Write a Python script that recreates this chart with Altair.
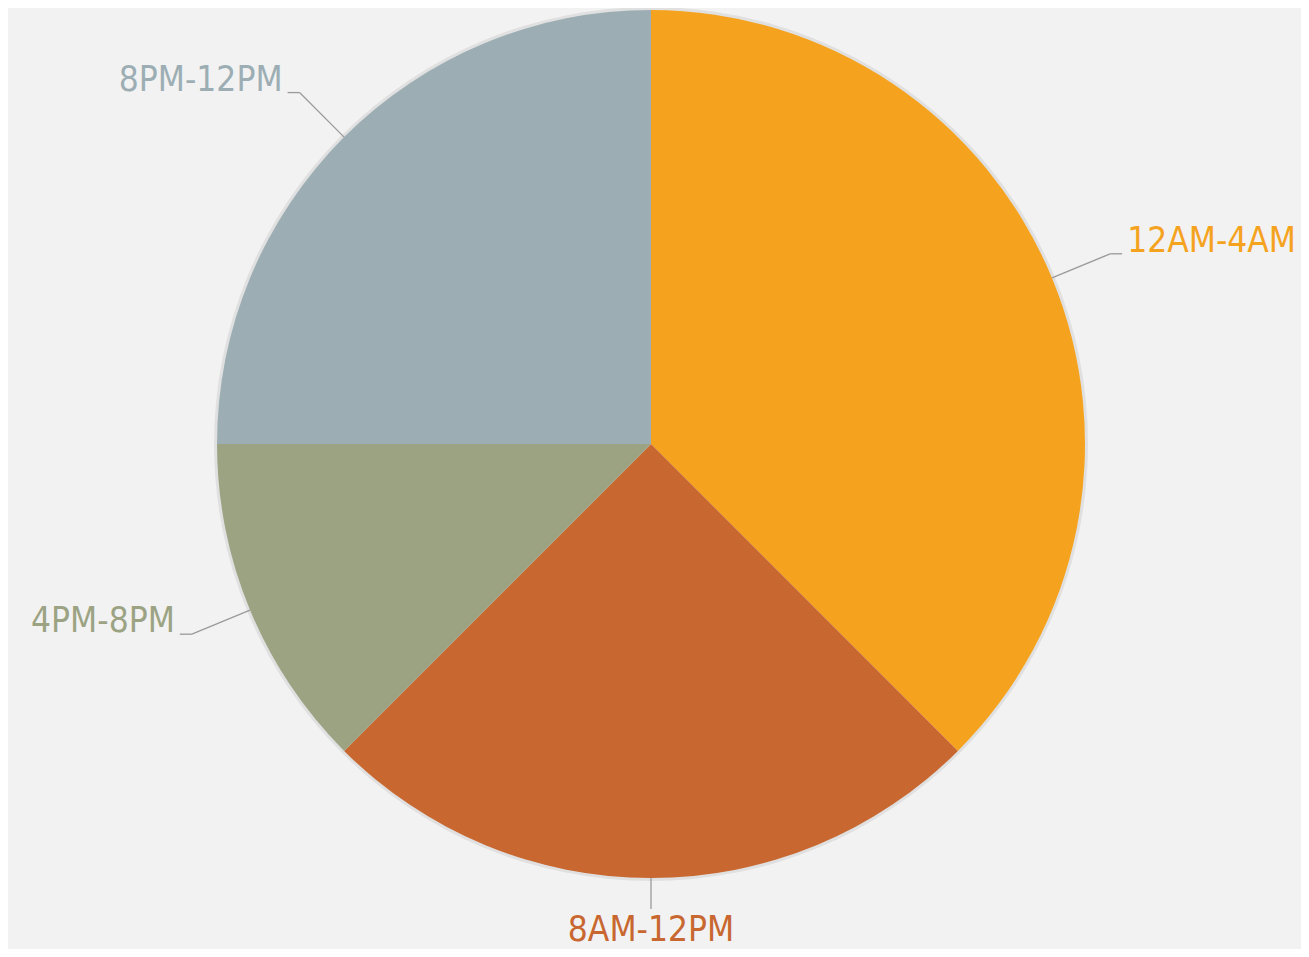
import math
import altair as alt
import pandas as pd

categories = ["12AM-4AM", "8AM-12PM", "4PM-8PM", "8PM-12PM"]
values = [37.5, 25, 12.5, 25]
colors = ["#F5A31E", "#C8672F", "#9CA383", "#9CAEB4"]

W, H = 1293, 941
CX, CY = 643, 436  # pie centre inside plot area (pixels)
R = 434

total = sum(values)
rows = []
cum = 0.0
for i, (c, v) in enumerate(zip(categories, values)):
    mid = (cum + v / 2) / total * 2 * math.pi
    cum += v
    s, co = math.sin(mid), math.cos(mid)
    vertical = abs(s) < 0.1
    ext = 31 if vertical else 63
    sx, sy = R * s, R * co
    ex, ey = (R + ext) * s, (R + ext) * co
    sign = 0 if vertical else (1 if s > 0 else -1)
    hx = ex + sign * 12
    if vertical:
        lx, ly, align, base = ex, ey - 4, "center", "top"
    else:
        lx, ly, align, base = hx + sign * 5, ey + 2, ("left" if sign > 0 else "right"), "alphabetic"
    rows.append(dict(cat=c, value=v, idx=i, cx=0, cy=0, sx=sx, sy=sy, ex=ex, ey=ey,
                     hx=hx, lx=lx, ly=ly, align=align, base=base))
df = pd.DataFrame(rows)

xs = alt.Scale(domain=[-CX, W - CX], range=[0, W], nice=False, zero=False)
ys = alt.Scale(domain=[-(H - CY), CY], range=[H, 0], nice=False, zero=False)
cscale = alt.Scale(domain=categories, range=colors)

base = alt.Chart(df)

shadow = base.mark_arc(radius=R + 3, color="#000000", opacity=0.07).encode(
    x=alt.X("cx:Q", scale=xs, axis=None),
    y=alt.Y("cy:Q", scale=ys, axis=None),
    theta=alt.Theta("value:Q", stack=True),
    order=alt.Order("idx:Q"),
)
pie = base.mark_arc(radius=R).encode(
    x=alt.X("cx:Q", scale=xs, axis=None),
    y=alt.Y("cy:Q", scale=ys, axis=None),
    theta=alt.Theta("value:Q", stack=True),
    color=alt.Color("cat:N", scale=cscale, legend=None),
    order=alt.Order("idx:Q"),
)
seg1 = base.mark_rule(color="#9A9A9A", strokeWidth=1.3).encode(
    x=alt.X("sx:Q", scale=xs, axis=None),
    y=alt.Y("sy:Q", scale=ys, axis=None),
    x2="ex:Q", y2="ey:Q",
)
seg2 = base.mark_rule(color="#9A9A9A", strokeWidth=1.3).encode(
    x=alt.X("ex:Q", scale=xs, axis=None),
    y=alt.Y("ey:Q", scale=ys, axis=None),
    x2="hx:Q", y2="ey:Q",
)

def label_layer(align, baseline):
    return base.transform_filter(
        (alt.datum.align == align) & (alt.datum.base == baseline)
    ).mark_text(
        font="DejaVu Sans Condensed", fontSize=35, align=align, baseline=baseline
    ).encode(
        x=alt.X("lx:Q", scale=xs, axis=None),
        y=alt.Y("ly:Q", scale=ys, axis=None),
        text="cat:N",
        color=alt.Color("cat:N", scale=cscale, legend=None),
    )

labels = [label_layer("left", "alphabetic"), label_layer("right", "alphabetic"),
          label_layer("center", "top")]

chart = alt.layer(shadow, pie, seg1, seg2, *labels).properties(
    width=W, height=H, padding=0, autosize=alt.AutoSizeParams(type="none"),
    background="#F2F2F2",
).configure_view(stroke=None)

chart.save("out.html", embed_options={"renderer": "svg", "actions": False})
